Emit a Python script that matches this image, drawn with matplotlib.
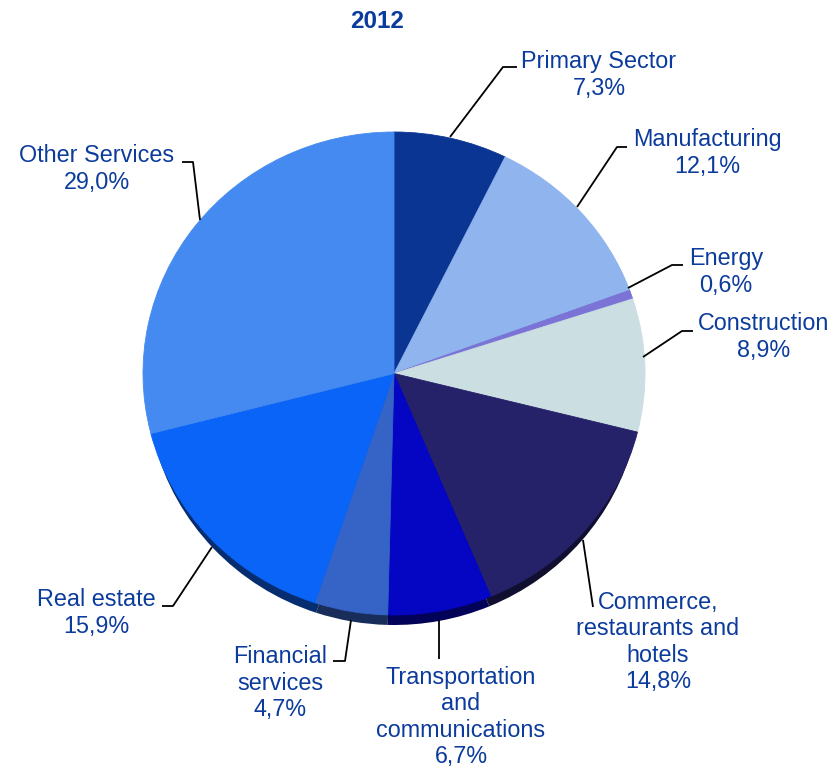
import numpy as np
import matplotlib
matplotlib.use('Agg')
import matplotlib.pyplot as plt
from matplotlib.colors import to_rgb

plt.rcParams['font.family'] = ['Liberation Sans', 'DejaVu Sans']

# GDP structure by sector, 2012 (% of total)
sectors = ['Primary Sector', 'Manufacturing', 'Energy', 'Construction',
           'Commerce,\nrestaurants and\nhotels', 'Transportation\nand\ncommunications',
           'Financial\nservices', 'Real estate', 'Other Services']
shares = [7.3, 12.1, 0.6, 8.9, 14.8, 6.7, 4.7, 15.9, 29.0]
colors = ['#0a3592', '#8fb4ee', '#7b74d6', '#cbdee2', '#25226a',
          '#0505c4', '#3563c6', '#0a64f8', '#458af0']

# label block centres and leader polylines (pixels, from the top-left)
label_pos = [(599, 75), (707, 153), (726, 272), (764, 337), (658, 642),
             (461, 717), (280, 683), (96, 613), (97, 169)]
leaders = [[(450, 137), (503, 67), (517, 67)],
           [(577, 207), (617, 147), (627, 147)],
           [(628, 288), (672, 265), (683, 265)],
           [(643, 357), (682, 331), (693, 331)],
           [(583, 540), (593, 607)],
           [(439, 620), (439, 659)],
           [(351, 620), (345, 661), (333, 661)],
           [(212, 547), (173, 606), (162, 606)],
           [(200, 220), (193, 162), (182, 162)]]

W, H = 832, 770
fig = plt.figure(figsize=(W / 100, H / 100), dpi=100)

# pie face: centre and radii in pixels (slightly squashed, seen from above)
cx, cy, rx, ry = 394, 373.5, 251, 241.5
pad = 1.1


def pie_axes(x0, y0, ax_rx, ax_ry):
    a = fig.add_axes([(x0 - pad * ax_rx) / W, (H - y0 - pad * ax_ry) / H,
                      2 * pad * ax_rx / W, 2 * pad * ax_ry / H])
    return a


# dark rim underneath, shifted down and a touch narrower
shade = [tuple(np.array(to_rgb(c)) * 0.45) for c in colors]
ax_s = pie_axes(cx, cy + 10, rx * 0.985, ry)
ax_s.pie(shares, colors=shade, startangle=90, counterclock=False, radius=1,
         wedgeprops=dict(linewidth=0))
ax = pie_axes(cx, cy, rx, ry)
wedges, _ = ax.pie(shares, colors=colors, startangle=90, counterclock=False,
                   radius=1, wedgeprops=dict(linewidth=0.6))
for w, c in zip(wedges, colors):
    w.set_edgecolor(c)
for a in (ax_s, ax):
    a.set_aspect('auto')
    a.set_xlim(-pad, pad)
    a.set_ylim(-pad, pad)
    a.axis('off')

# overlay for labels, leaders and title in pixel units
ov = fig.add_axes([0, 0, 1, 1])
ov.set_xlim(0, W)
ov.set_ylim(H, 0)
ov.axis('off')

txt_color = '#0b3b9c'
ov.text(377, 21, '2012', ha='center', va='center', fontsize=17.5,
        fontweight='bold', color=txt_color)

for name, val, (x, y), pts in zip(sectors, shares, label_pos, leaders):
    label = name + '\n' + f'{val:.1f}'.replace('.', ',') + '%'
    ov.text(x, y, label, ha='center', va='center', multialignment='center',
            fontsize=16.8, color=txt_color, linespacing=1.18)
    xs, ys = zip(*pts)
    ov.plot(xs, ys, color='black', lw=1.3, solid_capstyle='butt')

fig.savefig('out.png', dpi=100)
